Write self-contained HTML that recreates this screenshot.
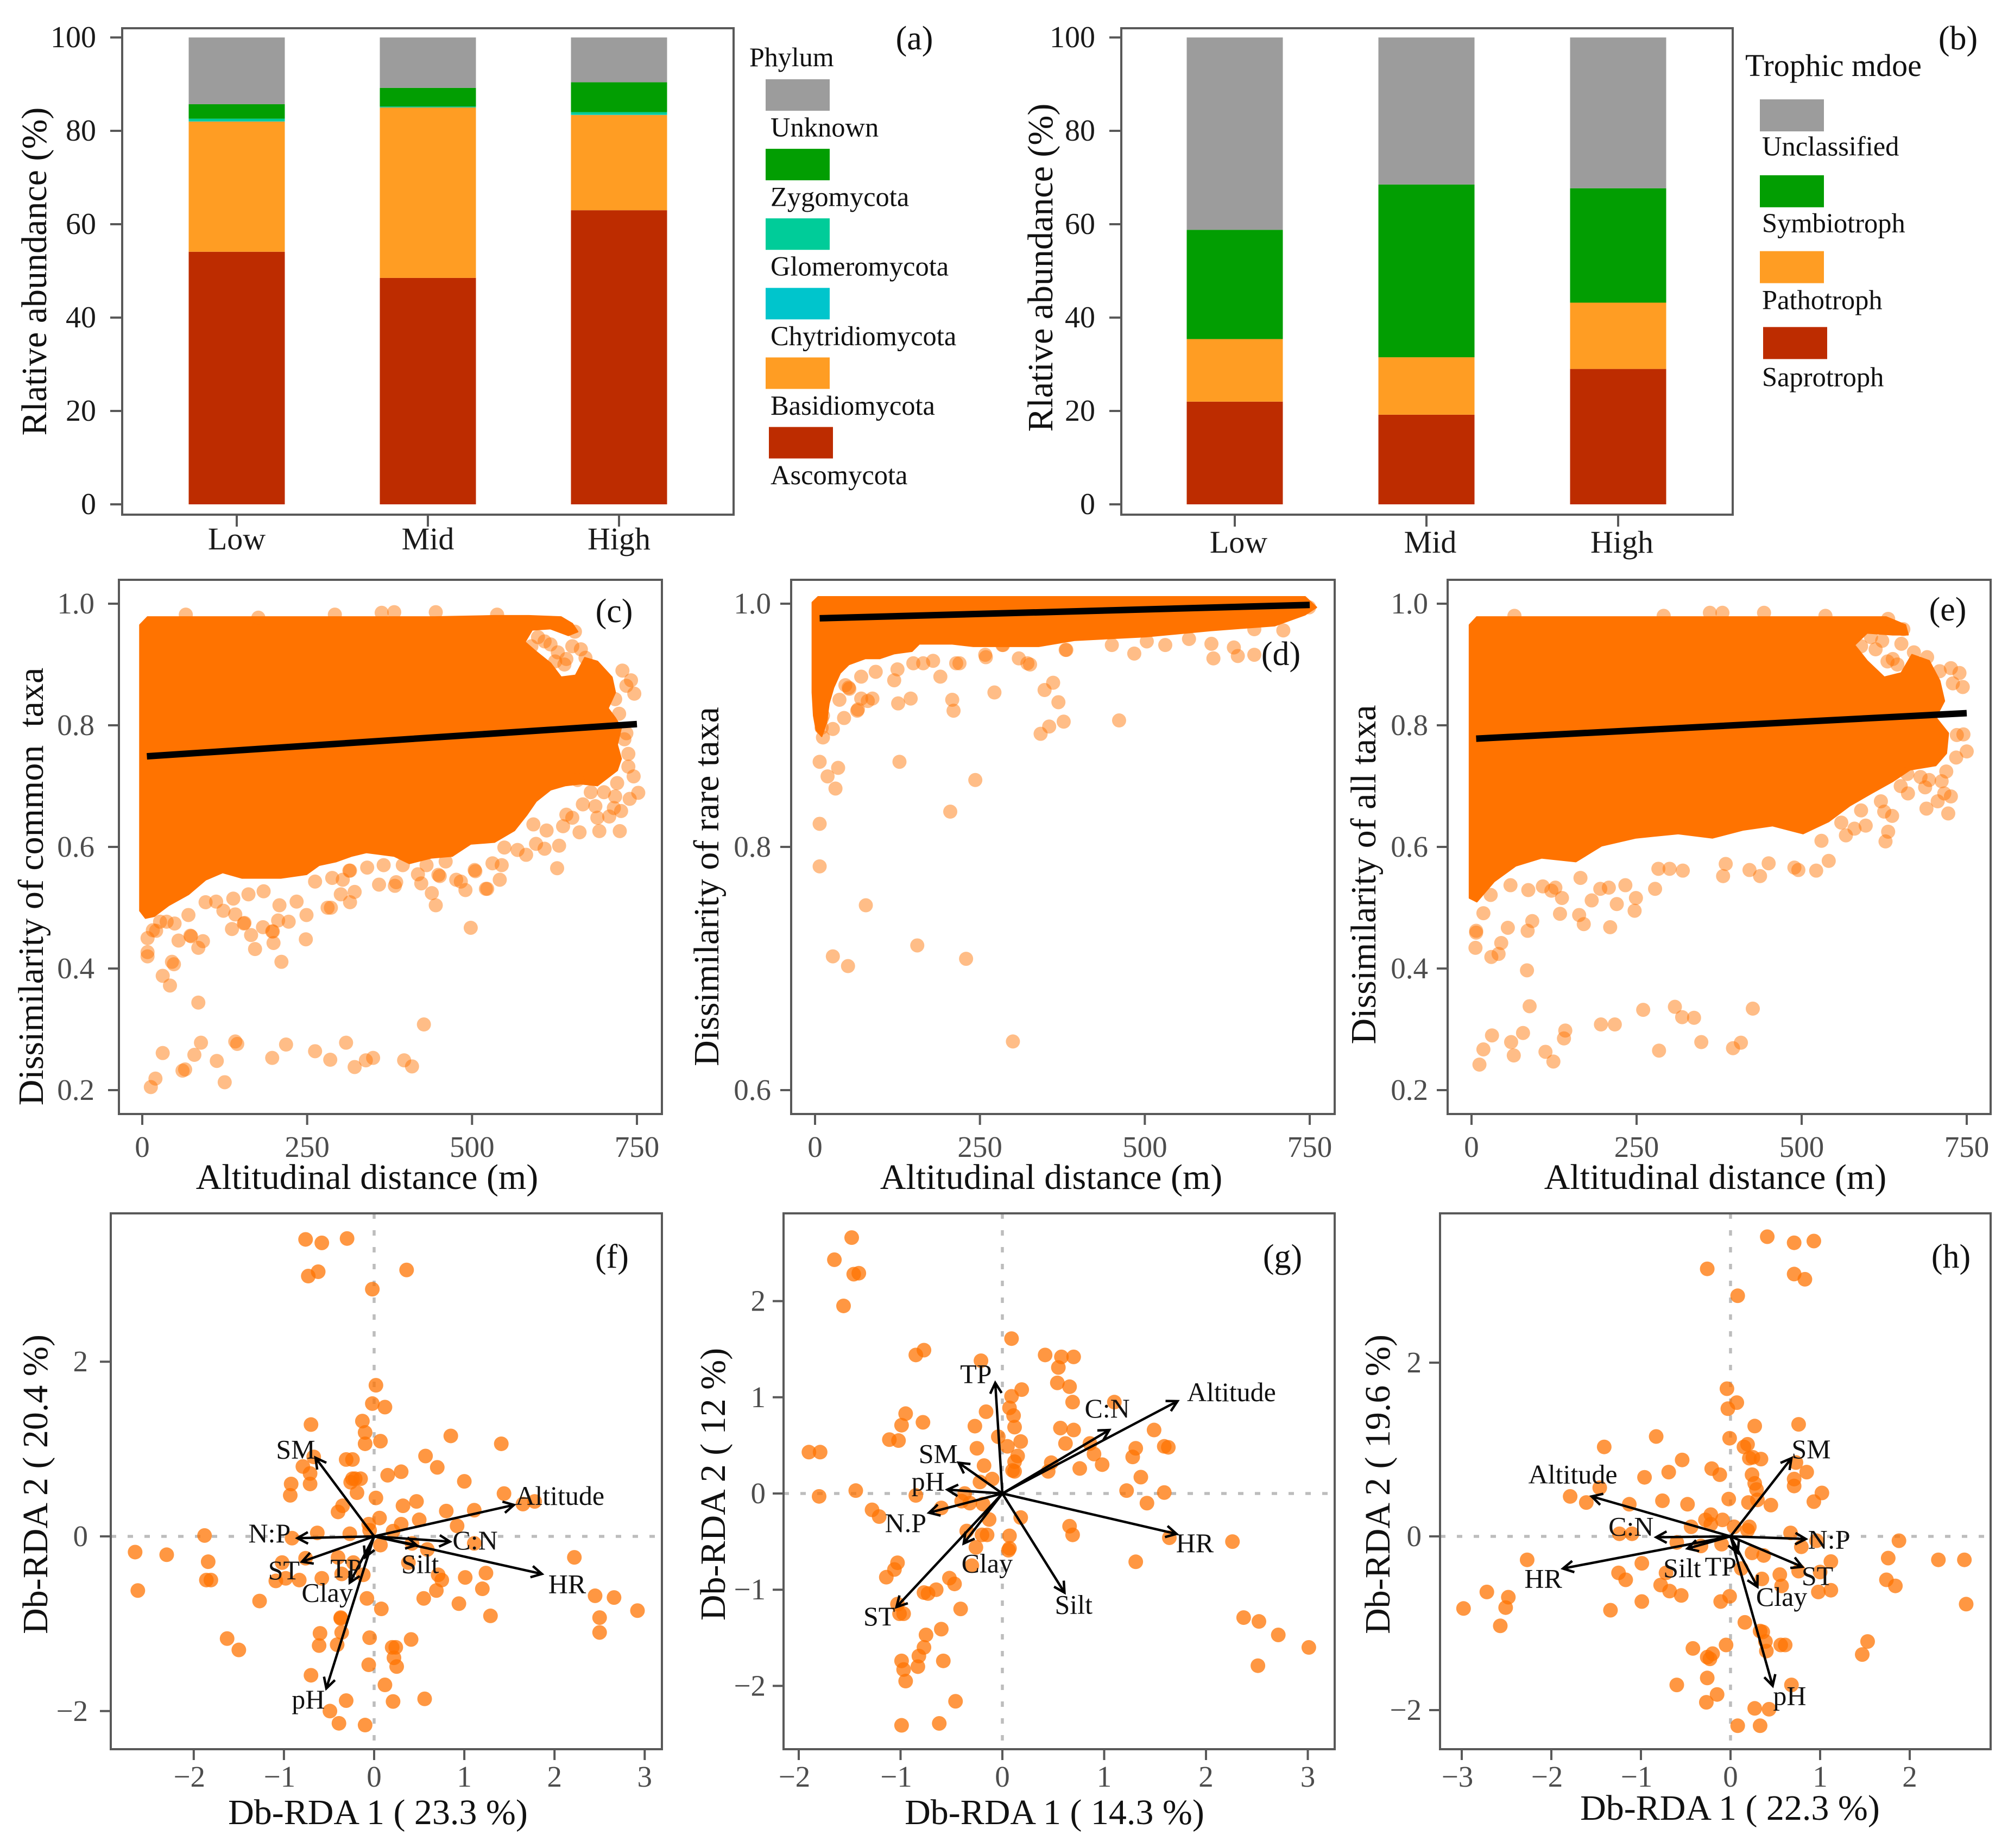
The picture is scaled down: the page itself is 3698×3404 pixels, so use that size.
<!DOCTYPE html>
<html lang="en">
<head>
<meta charset="utf-8">
<title>Fungal community composition, dissimilarity and db-RDA panels</title>
<style>
html,body{margin:0;padding:0;background:#fff;}
svg{display:block;}
text{font-family:"Liberation Serif",serif;white-space:pre;}
</style>
</head>
<body>
<svg id="figure" xmlns="http://www.w3.org/2000/svg" width="3698" height="3404" viewBox="0 0 3698 3404"></svg>
<script>
/* ---------- bar data ---------- */
const altitudeGroups = ['Low','Mid','High'];
const ascomycota = [54.1,48.5,63.0];
const basidiomycota = [27.9,36.5,20.4];
const chytridiomycota = [0.1,0.05,0.1];
const glomeromycota = [0.5,0.15,0.5];
const zygomycota = [3.1,4.0,6.4];
const unknownPhylum = [14.3,10.8,9.6];
const saprotroph = [22.0,19.2,29.0];
const pathotroph = [13.4,12.3,14.2];
const symbiotroph = [23.4,37.0,24.5];
const unclassified = [41.2,31.5,32.3];
const abundanceTicks = [0,20,40,60,80,100];
const phylumLabels = ['Unknown','Zygomycota','Glomeromycota','Chytridiomycota','Basidiomycota','Ascomycota'];
const trophicLabels = ['Unclassified','Symbiotroph','Pathotroph','Saprotroph'];

/* ---------- distance-decay data: x = altitudinal distance, y = dissimilarity ---------- */
const distanceTicks = [0,250,500,750];
const dissimTicksWide = [0.2,0.4,0.6,0.8,1.0];
const dissimTicksRare = [0.6,0.8,1.0];
const fitX = [7,750];
const fitCommon = [0.749,0.802];
const fitRare = [0.988,0.999];
const fitAll = [0.778,0.820];

/* outlines of the fully overplotted part of each cloud, as [distance, dissimilarity] */
const outlineCommon = [[-3.5,.965],[8,.978],[443,.978],[534,.98],[586,.98],[635,.978],[652,.967],[660,.954],[646,.948],[619,.959],[591,.957],[580,.937],[597,.921],[619,.902],[635,.879],[657,.882],[671,.911],[690,.905],[712,.879],[717,.854],[706,.828],[717,.812],[726,.796],[720,.768],[726,.745],[720,.726],[690,.701],[665,.704],[641,.701],[619,.694],[597,.675],[583,.653],[564,.627],[534,.608],[498,.605],[470,.585],[438,.582],[405,.573],[382,.585],[340,.591],[317,.585],[294,.576],[268,.57],[249,.555],[210,.549],[184,.549],[151,.549],[122,.558],[96,.546],[70,.522],[40,.504],[18,.486],[5,.483],[-3.5,.495]];
const outlineAll = [[-3,.965],[8,.978],[628,.978],[657,.965],[661,.949],[638,.949],[599,.952],[580,.932],[599,.906],[625,.879],[651,.886],[667,.916],[693,.906],[709,.873],[716,.84],[703,.813],[722,.787],[719,.754],[703,.734],[664,.727],[638,.708],[605,.688],[573,.668],[541,.642],[502,.622],[456,.635],[411,.628],[365,.615],[313,.622],[249,.615],[197,.602],[158,.576],[106,.582],[67,.569],[34,.543],[8,.51],[-3,.516]];
const outlineRare = [[-4,1.001],[4.7,1.0056],[743,1.0056],[760,.997],[743,.991],[697,.982],[600,.978],[502,.973],[394,.97],[339,.965],[298,.965],[268,.965],[240,.965],[208,.967],[158,.967],[147,.961],[120,.959],[98,.955],[76,.955],[51,.95],[38,.943],[28,.931],[21,.918],[17,.902],[10,.891],[2,.896],[-2,.908],[-4,.927]];

const pairsCommon = [[13,.205],[20,.219],[31,.261],[61,.232],[65,.234],[79,.258],[89,.278],[113,.248],[125,.213],[141,.28],[144,.276],[197,.253],[218,.275],[262,.264],[285,.25],[309,.278],[322,.238],[339,.249],[350,.253],[397,.249],[409,.239],[427,.308],[85,.344],[42,.372],[31,.388],[45,.411],[48,.407],[8,.42],[8,.427],[8,.45],[16,.463],[55,.446],[74,.453],[92,.445],[85,.434],[171,.432],[199,.442],[211,.411],[248,.448],[498,.467],[136,.465],[165,.455],[183,.468],[198,.461],[206,.479],[222,.477],[249,.488],[155,.475],[445,.504],[208,.504],[281,.5],[286,.5],[490,.529],[521,.531],[542,.546],[439,.524],[315,.509],[301,.522],[322,.526],[449,.554],[476,.546],[504,.562],[383,.536],[359,.538],[341,.566],[315,.561],[445,.986],[382,.986],[363,.985],[292,.982],[66,.982],[538,.982],[176,.977],[656,.954],[610,.938],[652,.93],[619,.933],[643,.909],[672,.911],[728,.89],[741,.874],[734,.865],[746,.852],[717,.843],[723,.819],[734,.787],[731,.777],[737,.753],[737,.732],[745,.716],[752,.689],[739,.679],[720,.705],[717,.683],[726,.659],[715,.664],[708,.65],[687,.667],[690,.648],[693,.626],[724,.626],[663,.624],[638,.634],[668,.67],[652,.648],[643,.653],[613,.627],[593,.637],[632,.602],[610,.597],[597,.605],[582,.587],[569,.595],[549,.599],[545,.57],[531,.573],[523,.531],[505,.56],[629,.565],[21,.462],[37,.477],[70,.488],[73,.454],[197,.461],[423,.54],[385,.542],[451,.552],[234,.51],[161,.522],[184,.527],[154,.474],[141,.489],[123,.495],[96,.509],[138,.515],[112,.51],[49,.474],[27,.477],[288,.549],[314,.561],[304,.546],[262,.543],[395,.57],[431,.57],[418,.555],[460,.576],[483,.543],[366,.57],[590,.93],[600,.945],[630,.92],[640,.9],[626,.905],[665,.925],[680,.895],[700,.87],[660,.71],[680,.69],[700,.69]];
const pairsRare = [[300,.64],[155,.719],[229,.708],[27,.71],[50,.702],[77,.752],[7,.784],[7,.819],[205,.829],[243,.855],[31,.848],[19,.858],[35,.865],[7,.87],[128,.87],[12,.89],[27,.897],[342,.893],[355,.899],[377,.903],[461,.904],[369,.919],[348,.929],[361,.935],[272,.927],[210,.912],[208,.921],[145,.922],[126,.918],[120,.937],[125,.946],[92,.944],[70,.94],[87,.922],[80,.92],[70,.922],[65,.913],[44,.906],[37,.921],[46,.933],[52,.93],[190,.94],[326,.95],[322,.951],[309,.955],[214,.951],[219,.951],[259,.956],[179,.953],[149,.951],[164,.951],[604,.955],[641,.957],[666,.958],[484,.959],[381,.962],[531,.966],[503,.969],[285,.966],[601,.967],[635,.964],[450,.966],[567,.971],[710,.978],[666,.979],[749,.997],[10,.916],[12,.908],[10,.905],[10,.898],[380,.962],[284,.966],[258,.958],[51,.931],[64,.912]];
const pairsAll = [[12,.242],[18,.267],[31,.29],[60,.279],[64,.257],[78,.294],[112,.263],[124,.247],[140,.285],[142,.298],[196,.308],[217,.308],[260,.332],[284,.265],[308,.337],[319,.32],[337,.319],[348,.279],[396,.269],[408,.278],[426,.334],[88,.338],[84,.397],[6,.434],[7,.459],[7,.462],[30,.419],[41,.424],[45,.442],[85,.462],[92,.478],[55,.467],[18,.491],[29,.521],[59,.537],[86,.529],[108,.535],[121,.528],[127,.533],[137,.516],[134,.49],[163,.488],[170,.473],[182,.512],[210,.468],[220,.506],[247,.495],[249,.516],[278,.531],[233,.537],[195,.531],[208,.533],[165,.549],[437,.552],[381,.552],[421,.562],[522,.561],[541,.577],[495,.562],[489,.566],[320,.561],[300,.564],[283,.564],[450,.573],[385,.572],[627,.609],[631,.625],[722,.655],[689,.663],[637,.651],[597,.635],[567,.619],[580,.63],[625,.658],[706,.675],[726,.683],[687,.698],[693,.71],[661,.688],[712,.708],[719,.724],[716,.688],[734,.747],[750,.757],[735,.784],[745,.785],[744,.863],[739,.886],[726,.894],[729,.869],[709,.889],[690,.912],[670,.92],[651,.934],[654,.958],[631,.975],[605,.945],[622,.939],[638,.909],[443,.985],[380,.985],[361,.985],[291,.98],[65,.98],[536,.98],[590,.93],[612,.925],[630,.905],[645,.9],[660,.72],[680,.715],[650,.7],[620,.675],[590,.66],[560,.64],[530,.61]];

/* ---------- db-RDA data ---------- */
const rdaTicksF2 = [-2,0,2];
const rdaTicksF1 = [-2,-1,0,1,2,3];
const rdaTicksG2 = [-2,-1,0,1,2];
const rdaTicksG1 = [-2,-1,0,1,2,3];
const rdaTicksH2 = [-2,0,2];
const rdaTicksH1 = [-3,-2,-1,0,1,2];

const sitesF = [[-.76,3.4],[-.58,3.36],[-.3,3.41],[-.73,2.98],[-.62,3.03],[.36,3.05],[-.02,2.83],[.02,1.73],[-.02,1.52],[.12,1.48],[-.13,1.32],[-.7,1.28],[-.1,1.19],[-.1,1.06],[.07,1.09],[.85,1.15],[1.41,1.06],[.57,.92],[.7,.79],[-.67,.91],[-.31,.88],[-.24,.88],[-.79,.8],[-.71,.72],[-.71,.6],[-.92,.6],[-.93,.47],[-.24,.66],[-.21,.66],[-.15,.66],[-.26,.62],[.15,.7],[.3,.74],[1,.63],[-.19,.5],[.02,.44],[1.44,.49],[1.65,.37],[1.78,.4],[.47,.4],[.32,.35],[-.35,.35],[-.4,.28],[.8,.29],[1.11,.3],[.06,.21],[.5,.19],[.3,.14],[-.06,.14],[.92,.12],[-1.88,.01],[-.63,.04],[-.91,-.02],[-.27,.03],[-.05,.07],[.21,.06],[1.11,-.08],[.07,-.1],[.42,-.08],[.59,-.15],[-2.65,-.18],[-2.3,-.21],[-1.84,-.29],[-.76,-.25],[-1.02,-.3],[-.4,-.24],[-.23,-.3],[.38,-.3],[2.22,-.24],[1.24,-.42],[1.01,-.47],[.71,-.44],[.75,-.5],[-1.86,-.5],[-1.81,-.5],[-1.09,-.51],[-.98,-.48],[-.83,-.5],[-.58,-.48],[-.36,-.43],[-.12,-.44],[1.2,-.6],[-2.62,-.62],[.69,-.62],[-.08,-.71],[.55,-.71],[-1.27,-.74],[2.45,-.68],[2.66,-.7],[.94,-.77],[.08,-.83],[2.92,-.85],[1.29,-.91],[2.5,-.93],[-.37,-.93],[-.37,-.94],[-.36,-1.1],[2.5,-1.1],[-.6,-1.11],[-.05,-1.16],[.41,-1.18],[-1.63,-1.17],[-.61,-1.25],[-.41,-1.24],[-1.5,-1.3],[.2,-1.27],[.24,-1.27],[.22,-1.39],[.25,-1.49],[-.06,-1.47],[-.7,-1.59],[.12,-1.7],[-.31,-1.88],[.21,-1.89],[.56,-1.86],[-.49,-2],[-.39,-2.14],[-.1,-2.16]];
const vectorNamesF = ['SM','N:P','ST','TP','Clay','pH','Silt','C:N','HR','Altitude'];
const vectorsF = [[-.65,.9],[-.85,-.02],[-.8,-.29],[-.1,-.24],[-.27,-.53],[-.53,-1.74],[.47,-.1],[.84,-.06],[1.86,-.43],[1.55,.36]];
const vectorLabelsF = [[-.87,.99],[-1.16,.03],[-1,-.39],[-.31,-.37],[-.52,-.65],[-.73,-1.87],[.51,-.32],[1.12,-.05],[2.14,-.55],[2.06,.46]];

const sitesG = [[-1.48,2.66],[-1.65,2.43],[-1.46,2.28],[-1.41,2.29],[-1.56,1.95],[.09,1.61],[-.85,1.44],[-.77,1.49],[-.21,1.38],[.42,1.44],[.58,1.42],[.7,1.42],[.55,1.31],[.54,1.15],[.66,1.11],[.19,1.08],[.09,1.01],[1.1,.95],[.69,.95],[.07,.89],[-.16,.85],[-.95,.83],[.11,.81],[-.99,.71],[-.78,.74],[.12,.69],[-.27,.7],[.57,.68],[.7,.66],[1.49,.66],[-.04,.59],[-1.11,.56],[-1.02,.55],[.18,.54],[.62,.52],[.86,.52],[.05,.49],[1.59,.49],[1.63,.48],[1.31,.47],[-.25,.47],[-1.9,.43],[-1.79,.43],[.9,.41],[.15,.39],[1.28,.38],[.48,.32],[.12,.33],[-.18,.29],[.98,.3],[.76,.26],[.1,.24],[.12,.23],[.45,.23],[1.36,.17],[-.1,.15],[-.22,.12],[-1.44,.03],[1.22,.03],[1.59,.01],[-.37,0],[-.85,-.02],[-1.8,-.03],[-.4,-.08],[-.32,-.1],[-.19,-.11],[1.42,-.1],[-.6,-.15],[-1.28,-.17],[-1.21,-.24],[.18,-.25],[-.13,-.27],[.66,-.34],[-.35,-.39],[-.2,-.43],[-.15,-.43],[.69,-.43],[.07,-.44],[1.64,-.46],[2.26,-.5],[-.26,-.56],[.07,-.57],[.06,-.59],[1.31,-.71],[-1.03,-.72],[-.3,-.75],[-1.06,-.79],[-1.14,-.87],[-.52,-.88],[-.47,-.94],[-.65,-1],[-.77,-1.03],[-.73,-1.04],[-1.03,-1.15],[-.41,-1.2],[-1.01,-1.25],[-.97,-1.25],[2.37,-1.29],[2.52,-1.33],[-.6,-1.41],[2.71,-1.47],[-.75,-1.47],[-.77,-1.6],[3.01,-1.6],[-.82,-1.69],[-.99,-1.74],[-.58,-1.74],[-.83,-1.8],[-.97,-1.83],[2.51,-1.79],[-.95,-1.95],[-.46,-2.16],[-.99,-2.41],[-.62,-2.39]];
const vectorNamesG = ['TP','Altitude','C:N','SM','pH','N.P','HR','Silt','Clay','ST'];
const vectorsG = [[-.07,1.15],[1.72,.96],[1.05,.66],[-.43,.32],[-.54,.04],[-.72,-.2],[1.71,-.42],[.61,-1.03],[-.38,-.52],[-1.04,-1.18]];
const vectorLabelsG = [[-.26,1.24],[2.25,1.05],[1.03,.88],[-.63,.41],[-.73,.12],[-.95,-.31],[1.89,-.52],[.7,-1.16],[-.15,-.73],[-1.21,-1.28]];

const sitesH = [[.41,3.45],[.71,3.38],[.93,3.4],[-.26,3.08],[.71,3.02],[.83,2.96],[.08,2.77],[-.04,1.7],[.07,1.54],[-.03,1.47],[.76,1.29],[.27,1.27],[-.83,1.15],[-.01,1.13],[-1.41,1.03],[.19,1.06],[.15,1.03],[.21,.9],[.25,.91],[.34,.89],[-.54,.88],[.73,.85],[-.21,.78],[-.12,.71],[-.69,.74],[.24,.71],[.85,.74],[-.96,.68],[.71,.66],[.27,.61],[.71,.58],[.29,.54],[1.02,.5],[-1.46,.56],[-1.79,.46],[-.02,.43],[-.76,.41],[.3,.42],[.2,.39],[.93,.4],[-1.61,.39],[-1.13,.37],[-.48,.37],[.45,.36],[-.22,.25],[-.28,.19],[-.09,.19],[-.22,.14],[.21,.11],[-.44,.11],[.04,.11],[.19,.07],[.67,.04],[-1.24,.03],[-1.1,.03],[.96,-.05],[1.88,-.05],[-.6,-.07],[-.1,-.09],[-.33,-.11],[.79,-.12],[.24,-.19],[.37,-.22],[-2.27,-.27],[1.76,-.25],[1.12,-.29],[2.32,-.27],[2.61,-.27],[-.99,-.31],[.12,-.37],[.76,-.4],[1,-.41],[-.72,-.42],[-1.25,-.42],[.55,-.44],[.35,-.49],[-1.17,-.5],[1.74,-.5],[-.78,-.56],[.57,-.57],[1.84,-.57],[1.12,-.62],[.98,-.64],[-2.72,-.64],[-.68,-.63],[-.55,-.68],[-.01,-.69],[-2.48,-.7],[-.99,-.75],[-.11,-.75],[2.63,-.78],[-2.51,-.82],[-2.98,-.83],[-1.34,-.85],[.16,-.99],[-2.57,-1.03],[.33,-1.09],[.36,-1.1],[.39,-1.21],[1.53,-1.21],[-.05,-1.25],[.56,-1.25],[.61,-1.25],[-.42,-1.29],[.4,-1.32],[-.2,-1.35],[1.47,-1.36],[-.26,-1.39],[-.23,-1.41],[-.26,-1.63],[-.6,-1.71],[.68,-1.71],[-.15,-1.82],[-.27,-1.91],[.27,-1.98],[.43,-1.99],[.08,-2.18],[.33,-2.18]];
const vectorNamesH = ['SM','N:P','ST','Clay','pH','TP','Silt','HR','C:N','Altitude'];
const vectorsH = [[.68,.9],[.84,-.03],[.8,-.35],[.3,-.58],[.47,-1.72],[.08,-.19],[-.48,-.14],[-1.87,-.37],[-.83,-.01],[-1.55,.46]];
const vectorLabelsH = [[.9,1],[1.1,-.04],[.97,-.46],[.57,-.7],[.66,-1.84],[-.11,-.35],[-.54,-.37],[-2.09,-.49],[-1.11,.11],[-1.76,.71]];

/* ---------- drawing helpers ---------- */
const SVGNS = 'http://www.w3.org/2000/svg';
const root = document.getElementById('figure');
const FRAME = '#595959', TICK = '#4d4d4d', ORANGE = '#ff7300';

function make(tag, parent, attrs) {
  const el = document.createElementNS(SVGNS, tag);
  for (const k in attrs) el.setAttribute(k, attrs[k]);
  parent.appendChild(el);
  return el;
}
function group(name) {
  const g = make('g', root, {});
  
  
  return g;
}
function label(parent, name, str, x, y, size, fill, anchor, rotate) {
  const attrs = {x: x, y: y, 'font-size': size, fill: fill, 'text-anchor': anchor};
  if (rotate) attrs.transform = 'rotate(-90 ' + x + ' ' + y + ')';
  const t = make('text', parent, attrs);
  
  
  t.textContent = str;
  return t;
}
function frame(parent, x0, y0, x1, y1) {
  const r = make('rect', parent, {x: x0, y: y0, width: x1 - x0, height: y1 - y0, fill: 'none', stroke: FRAME, 'stroke-width': 4});
  
  
}
function tick(parent, x1, y1, x2, y2) {
  const l = make('line', parent, {x1: x1, y1: y1, x2: x2, y2: y2, stroke: FRAME, 'stroke-width': 4});
  
  
}
function fmt(v) {
  return String(v).replace('-', '\u2212');
}

/* ---------- stacked bars ---------- */
function stackedPanel(cfg) {
  const g = group(cfg.name);
  const sy = v => 929 - v * 8.6;
  const cx = i => cfg.cx0 + i * cfg.step;
  cfg.categories.forEach((cat, i) => {
    let base = 0;
    cfg.series.forEach(s => {
      const v = s.values[i];
      const r = make('rect', g, {x: cx(i) - 88.5, y: sy(base + v), width: 177, height: v * 8.6, fill: s.color});
      
      
      base += v;
    });
    tick(g, cx(i), cfg.y1, cx(i), cfg.y1 + 22);
    label(g, 'x-tick-label', cat, cx(i) + cfg.labelDx, cfg.tickBase, 58, '#1a1a1a', 'middle');
  });
  frame(g, cfg.x0, 52, cfg.x1, cfg.y1);
  abundanceTicks.forEach(t => {
    tick(g, cfg.x0 - 22, sy(t), cfg.x0, sy(t));
    label(g, 'y-tick-label', String(t), cfg.x0 - 48, sy(t) + 18, 56, '#1a1a1a', 'end');
  });
  label(g, 'y-axis-title', 'Rlative abundance (%)', cfg.titleX, cfg.titleY, 66, '#111', 'middle', true);
  return g;
}
function legend(parent, title, tx, ty, entries) {
  const g = make('g', parent, {});
  
  
  label(g, 'legend-title', title[0], tx, ty, title[1], '#111', 'start');
  entries.forEach(e => {
    const r = make('rect', g, {x: e.sx, y: e.sy, width: 118, height: e.sh, fill: e.color});
    
    
    label(g, 'legend-entry', e.text, e.lx, e.ly, 50.5, '#111', 'start');
  });
}
const gA = stackedPanel({name: 'panel-a-phylum', categories: altitudeGroups, cx0: 436, step: 352, x0: 225, x1: 1351, y1: 948, tickBase: 1012, labelDx: 0, titleX: 85, titleY: 500,
  series: [
    {key: 'ascomycota', values: ascomycota, color: '#bd2c00'},
    {key: 'basidiomycota', values: basidiomycota, color: '#ff9d23'},
    {key: 'chytridiomycota', values: chytridiomycota, color: '#00c5cc'},
    {key: 'glomeromycota', values: glomeromycota, color: '#00cc99'},
    {key: 'zygomycota', values: zygomycota, color: '#029e02'},
    {key: 'unknown', values: unknownPhylum, color: '#9c9c9c'}
  ]});
const phylumColors = ['#9c9c9c','#029e02','#00cc99','#00c5cc','#ff9d23','#bd2c00'];
legend(gA, ['Phylum', 50], 1380, 122, phylumLabels.map((t, i) => ({
  text: t, color: phylumColors[i], sx: i === 5 ? 1416 : 1410, sy: 146 + i * 128.1, sh: 58, lx: 1419, ly: 251.5 + i * 128.1
})));
label(gA, 'panel-label-a', '(a)', 1684, 91, 62, '#111', 'middle');

const gB = stackedPanel({name: 'panel-b-trophic-mode', categories: altitudeGroups, cx0: 2274, step: 353, x0: 2065, x1: 3191, y1: 948, tickBase: 1018, labelDx: 7, titleX: 1938, titleY: 493,
  series: [
    {key: 'saprotroph', values: saprotroph, color: '#bd2c00'},
    {key: 'pathotroph', values: pathotroph, color: '#ff9d23'},
    {key: 'symbiotroph', values: symbiotroph, color: '#029e02'},
    {key: 'unclassified', values: unclassified, color: '#9c9c9c'}
  ]});
const trophicColors = ['#9c9c9c','#029e02','#ff9d23','#bd2c00'];
legend(gB, ['Trophic mdoe', 58], 3214, 140, trophicLabels.map((t, i) => ({
  text: t, color: trophicColors[i], sx: i === 3 ? 3247 : 3241, sy: 183 + i * 139.8, sh: 59, lx: 3245, ly: 286.5 + i * 141.6
})));
label(gB, 'panel-label-b', '(b)', 3606, 91, 62, '#111', 'middle');

/* ---------- distance-decay scatter ---------- */
function scatterPanel(cfg) {
  const g = group(cfg.name);
  const sx = v => cfg.xZero + v * (cfg.xEnd - cfg.xZero) / 750;
  const sy = v => cfg.yTop + (cfg.yMax - v) * (cfg.yBottom - cfg.yTop) / (cfg.yMax - cfg.yMin);
  const cloud = make('polygon', g, {points: cfg.outline.map(p => sx(p[0]) + ',' + sy(p[1])).join(' '), fill: ORANGE, stroke: ORANGE, 'stroke-width': 3, 'stroke-linejoin': 'round'});
  
  
  cfg.points.forEach(p => {
    const c = make('circle', g, {cx: sx(p[0]), cy: sy(p[1]), r: 13, fill: ORANGE, 'fill-opacity': 0.47});
    
    
  });
  const fit = make('line', g, {x1: sx(fitX[0]), y1: sy(cfg.fit[0]), x2: sx(fitX[1]), y2: sy(cfg.fit[1]), stroke: '#000', 'stroke-width': 12});
  
  
  frame(g, cfg.x0, 1068, cfg.x1, 2052);
  distanceTicks.forEach(t => {
    tick(g, sx(t), 2052, sx(t), 2072);
    label(g, 'x-tick-label', String(t), sx(t), 2131, 55, TICK, 'middle');
  });
  cfg.yTicks.forEach(t => {
    tick(g, cfg.x0 - 20, sy(t), cfg.x0, sy(t));
    label(g, 'y-tick-label', t.toFixed(1), cfg.tickRight, sy(t) + 18, 55, TICK, 'end');
  });
  label(g, 'x-axis-title', 'Altitudinal distance (m)', cfg.xTitleX, 2190, 66, '#111', 'middle');
  label(g, 'y-axis-title', cfg.yTitle, cfg.yTitleX, cfg.yTitleY, 66, '#111', 'middle', true);
  label(g, 'panel-label', cfg.letter[0], cfg.letter[1], cfg.letter[2], 62, '#111', 'middle');
}
scatterPanel({name: 'panel-c-common-taxa', x0: 219, x1: 1219, xZero: 262, xEnd: 1173, yTop: 1112, yBottom: 2008, yMax: 1, yMin: 0.2, yTicks: dissimTicksWide, tickRight: 174,
  outline: outlineCommon, points: pairsCommon, fit: fitCommon,
  xTitleX: 676, yTitleX: 79, yTitleY: 1633, yTitle: 'Dissimilarity of common  taxa', letter: ['(c)', 1131, 1146]});
scatterPanel({name: 'panel-d-rare-taxa', x0: 1457, x1: 2458, xZero: 1501, xEnd: 2412, yTop: 1112, yBottom: 2008, yMax: 1, yMin: 0.6, yTicks: dissimTicksRare, tickRight: 1420,
  outline: outlineRare, points: pairsRare, fit: fitRare,
  xTitleX: 1936, yTitleX: 1323, yTitleY: 1633, yTitle: 'Dissimilarity of rare taxa', letter: ['(d)', 2359, 1225]});
scatterPanel({name: 'panel-e-all-taxa', x0: 2666, x1: 3666, xZero: 2710, xEnd: 3622, yTop: 1112, yBottom: 2008, yMax: 1, yMin: 0.2, yTicks: dissimTicksWide, tickRight: 2630,
  outline: outlineAll, points: pairsAll, fit: fitAll,
  xTitleX: 3159, yTitleX: 2533, yTitleY: 1611, yTitle: 'Dissimilarity of all taxa', letter: ['(e)', 3587, 1143]});

/* ---------- db-RDA biplots ---------- */
function rdaPanel(cfg) {
  const g = group(cfg.name);
  const sx = v => cfg.xZero + v * cfg.xUnit;
  const sy = v => cfg.yZero - v * cfg.yUnit;
  [[cfg.x0, sy(0), cfg.x1, sy(0)], [sx(0), 2235, sx(0), 3222]].forEach(d => {
    const l = make('line', g, {x1: d[0], y1: d[1], x2: d[2], y2: d[3], stroke: '#bdbdbd', 'stroke-width': 5.5, 'stroke-dasharray': '10 21'});
    
    
  });
  cfg.sites.forEach(p => {
    const c = make('circle', g, {cx: sx(p[0]), cy: sy(p[1]), r: 13.5, fill: ORANGE, 'fill-opacity': 0.74});
    
    
  });
  cfg.vectors.forEach((v, i) => {
    const ox = sx(0), oy = sy(0), tx = sx(v[0]), ty = sy(v[1]);
    const a = Math.atan2(ty - oy, tx - ox), h = 22, w = 0.5;
    const d = 'M' + ox + ' ' + oy + 'L' + tx + ' ' + ty +
      'M' + (tx - h * Math.cos(a - w)) + ' ' + (ty - h * Math.sin(a - w)) + 'L' + tx + ' ' + ty +
      'L' + (tx - h * Math.cos(a + w)) + ' ' + (ty - h * Math.sin(a + w));
    const p = make('path', g, {d: d, fill: 'none', stroke: '#000', 'stroke-width': 4.5});
    
    
  });
  cfg.names.forEach((n, i) => {
    const q = cfg.labels[i];
    label(g, 'vector-label', n, sx(q[0]), sy(q[1]) + 16, 50, '#111', 'middle');
  });
  frame(g, cfg.x0, 2235, cfg.x1, 3222);
  cfg.xTicks.forEach(t => {
    tick(g, sx(t), 3222, sx(t), 3242);
    label(g, 'x-tick-label', fmt(t), sx(t) - (t < 0 ? 8 : 0), 3291, 55, TICK, 'middle');
  });
  cfg.yTicks.forEach(t => {
    tick(g, cfg.x0 - 20, sy(t), cfg.x0, sy(t));
    label(g, 'y-tick-label', fmt(t), cfg.tickRight, sy(t) + 18, 55, TICK, 'end');
  });
  label(g, 'x-axis-title', cfg.xTitle, cfg.xTitleX, cfg.xTitleY, 66, '#111', 'middle');
  label(g, 'y-axis-title', cfg.yTitle, cfg.yTitleX, 2734, 66, '#111', 'middle', true);
  label(g, 'panel-label', cfg.letter[0], cfg.letter[1], 2335, 62, '#111', 'middle');
}
rdaPanel({name: 'panel-f-rda', x0: 204, x1: 1219, xZero: 689, xUnit: 166.1, yZero: 2830, yUnit: 160.9, sites: sitesF, vectors: vectorsF, names: vectorNamesF, labels: vectorLabelsF,
  xTicks: rdaTicksF1, yTicks: rdaTicksF2, tickRight: 162, xTitle: 'Db-RDA 1 ( 23.3 %)', xTitleX: 696, xTitleY: 3360, yTitle: 'Db-RDA 2 ( 20.4 %)', yTitleX: 87, letter: ['(f)', 1127]});
rdaPanel({name: 'panel-g-rda', x0: 1443, x1: 2458, xZero: 1846, xUnit: 187.5, yZero: 2751, yUnit: 177.2, sites: sitesG, vectors: vectorsG, names: vectorNamesG, labels: vectorLabelsG,
  xTicks: rdaTicksG1, yTicks: rdaTicksG2, tickRight: 1410, xTitle: 'Db-RDA 1 ( 14.3 %)', xTitleX: 1942, xTitleY: 3360, yTitle: 'Db-RDA 2 ( 12 %)', yTitleX: 1335, letter: ['(g)', 2362]});
rdaPanel({name: 'panel-h-rda', x0: 2652, x1: 3666, xZero: 3187, xUnit: 165, yZero: 2830, yUnit: 160, sites: sitesH, vectors: vectorsH, names: vectorNamesH, labels: vectorLabelsH,
  xTicks: rdaTicksH1, yTicks: rdaTicksH2, tickRight: 2618, xTitle: 'Db-RDA 1 ( 22.3 %)', xTitleX: 3186, xTitleY: 3352, yTitle: 'Db-RDA 2 ( 19.6 %)', yTitleX: 2559, letter: ['(h)', 3593]});
</script>
</body>
</html>
